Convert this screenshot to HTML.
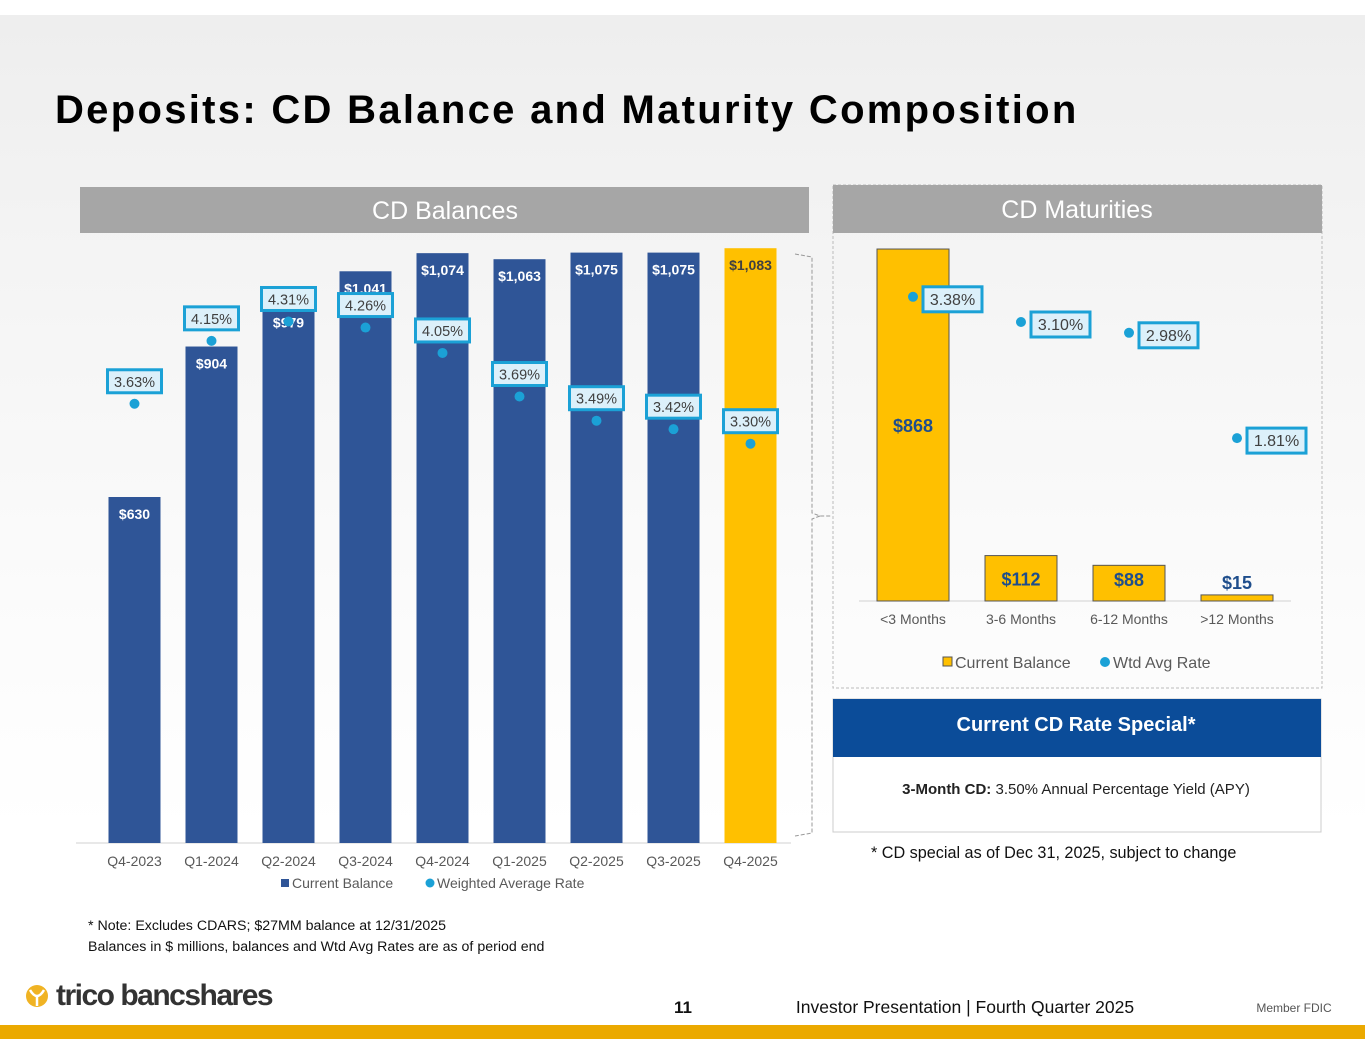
<!DOCTYPE html>
<html><head><meta charset="utf-8"><style>
html,body{margin:0;padding:0;}
body{width:1365px;height:1055px;position:relative;overflow:hidden;font-family:"Liberation Sans",sans-serif;background:#fff;}
.bg{position:absolute;left:0;top:15px;width:1365px;height:960px;background:linear-gradient(180deg,#eeeeee 0%,#f5f5f5 30%,#fbfbfb 60%,#ffffff 85%);}
svg{position:absolute;left:0;top:0;}
</style></head><body>
<div class="bg"></div>
<svg width="1365" height="1055" viewBox="0 0 1365 1055">
<text x="55" y="123" font-family="Liberation Sans, sans-serif" font-weight="bold" font-size="40" letter-spacing="2.3" fill="#000">Deposits: CD Balance and Maturity Composition</text>

<rect x="80" y="187" width="729" height="46" fill="#a6a6a6"/>
<text x="445" y="219" text-anchor="middle" font-size="25" fill="#fff">CD Balances</text>

<rect x="833" y="185" width="489" height="503" fill="none" stroke="#bbb" stroke-dasharray="3,2"/>
<rect x="833" y="185" width="489" height="48" fill="#a6a6a6"/>
<text x="1077" y="218" text-anchor="middle" font-size="25" fill="#fff">CD Maturities</text>

<path d="M795,254 L812,257 L812,513 L820,516 L832,516 M820,516 L812,519 L812,833 L795,836" fill="none" stroke="#999" stroke-dasharray="4,2"/>

<g id="left"></g>
<g id="right"></g>

<rect x="833" y="699" width="488" height="133" fill="#fff" stroke="#ccc"/>
<rect x="833" y="699" width="488" height="58" fill="#0b4c99"/>
<text x="1076" y="731" text-anchor="middle" font-size="20" font-weight="bold" fill="#fff">Current CD Rate Special*</text>
<text x="1076" y="794" text-anchor="middle" font-size="15" fill="#222"><tspan font-weight="bold">3-Month CD:</tspan> 3.50% Annual Percentage Yield (APY)</text>
<text x="871" y="858" font-size="16.2" fill="#111">* CD special as of Dec 31, 2025, subject to change</text>

<text x="88" y="930" font-size="14.2" fill="#111">* Note: Excludes CDARS; $27MM balance at 12/31/2025</text>
<text x="88" y="951" font-size="14.2" fill="#111">Balances in $ millions, balances and Wtd Avg Rates are as of period end</text>

<g>
<circle cx="37" cy="996" r="11" fill="#f0b323"/>
<path d="M30,990 Q37,1002 44,990" fill="none" stroke="#fff" stroke-width="2.5"/>
<line x1="37" y1="996" x2="37" y2="1006" stroke="#fff" stroke-width="2.5"/>
<text x="56" y="1005" font-size="30" font-weight="bold" fill="#333" letter-spacing="-1.5">trico bancshares</text>
</g>
<text x="683" y="1013" text-anchor="middle" font-size="17" font-weight="bold" fill="#111">11</text>
<text x="965" y="1013" text-anchor="middle" font-size="17.5" fill="#111">Investor Presentation  |  Fourth Quarter 2025</text>
<text x="1294" y="1012" text-anchor="middle" font-size="12" fill="#555">Member FDIC</text>
<rect x="0" y="1025" width="1365" height="14" fill="#eba900"/>
</svg>
<script>
const NS="http://www.w3.org/2000/svg";
const quarters=["Q4-2023","Q1-2024","Q2-2024","Q3-2024","Q4-2024","Q1-2025","Q2-2025","Q3-2025","Q4-2025"];
const balances=[630,904,979,1041,1074,1063,1075,1075,1083];
const balanceLabels=["$630","$904","$979","$1,041","$1,074","$1,063","$1,075","$1,075","$1,083"];
const rates=[3.63,4.15,4.31,4.26,4.05,3.69,3.49,3.42,3.30];
const buckets=["<3 Months","3-6 Months","6-12 Months",">12 Months"];
const matBalances=[868,112,88,15];
const matRates=[3.38,3.10,2.98,1.81];

function mk(parent,tag,attrs,text){const e=document.createElementNS(NS,tag);for(const k in attrs)e.setAttribute(k,attrs[k]);if(text!==undefined)e.textContent=text;parent.appendChild(e);return e;}

// Left chart
const L=document.getElementById('left');
const lBase=843, lX0=96, lStep=77, lBw=52;
const lx=i=>lX0+lStep*(i+0.5);
const ly=v=>lBase-v*0.5492;
const lr=r=>lBase-r*121;
let ax=mk(L,'line',{x1:lX0-20,y1:lBase,x2:lX0+lStep*9+2,y2:lBase,stroke:'#d0d0d0'});


quarters.forEach((q,i)=>{
  const last=i===quarters.length-1;
  const b=mk(L,'rect',{x:lx(i)-lBw/2,y:ly(balances[i]),width:lBw,height:lBase-ly(balances[i]),fill:last?'#ffc000':'#2f5597'});
  
  
  const t=mk(L,'text',{x:lx(i),y:ly(balances[i])+22,'text-anchor':'middle','font-size':14,'font-weight':'bold',fill:last?'#404040':'#fff'},balanceLabels[i]);
  
  
  const xl=mk(L,'text',{x:lx(i),y:866,'text-anchor':'middle','font-size':14,fill:'#595959'},q);
  
  
  const cy=lr(rates[i]);
  const d=mk(L,'circle',{cx:lx(i),cy:cy,r:5,fill:'#1ba1d6'});
  
  
  const bx=mk(L,'rect',{x:lx(i)-27,y:cy-34,width:54,height:23,fill:'#dcf0fa',stroke:'#1ba1d6','stroke-width':3});
  
  
  const rt=mk(L,'text',{x:lx(i),y:cy-17,'text-anchor':'middle','font-size':14.5,fill:'#404040'},rates[i].toFixed(2)+'%');
  
  
});
let lg1=mk(L,'rect',{x:281,y:879,width:8,height:8,fill:'#2f5597'});


let lg2=mk(L,'text',{x:292,y:888,'font-size':14,fill:'#595959'},'Current Balance');


let lg3=mk(L,'circle',{cx:430,cy:883,r:4.5,fill:'#1ba1d6'});


let lg4=mk(L,'text',{x:437,y:888,'font-size':14,fill:'#595959'},'Weighted Average Rate');



// Right chart
const R=document.getElementById('right');
const rBase=601, rX0=859, rStep=108, rBw=72;
const rx=i=>rX0+rStep*(i+0.5);
const ry=v=>rBase-v*0.4055;
const rr=r=>rBase-r*90;
let ax2=mk(R,'line',{x1:rX0,y1:rBase,x2:rX0+rStep*4,y2:rBase,stroke:'#d0d0d0'});


buckets.forEach((c,i)=>{
  const b=mk(R,'rect',{x:rx(i)-rBw/2,y:ry(matBalances[i]),width:rBw,height:rBase-ry(matBalances[i]),fill:'#ffc000',stroke:'#555','stroke-width':1});
  
  
  const ty=i===0?ry(matBalances[i])+183:Math.min(ry(matBalances[i])+30,rBase-15);
  const t=mk(R,'text',{x:rx(i),y:i===0?432:(i===3?589:ty),'text-anchor':'middle','font-size':18,'font-weight':'bold',fill:'#1f4e8c'},'$'+matBalances[i]);
  
  
  const xl=mk(R,'text',{x:rx(i),y:624,'text-anchor':'middle','font-size':14,fill:'#595959'},c);
  
  
  const cy=rr(matRates[i]);
  const d=mk(R,'circle',{cx:rx(i),cy:cy,r:5,fill:'#1ba1d6'});
  
  
  const bx=mk(R,'rect',{x:rx(i)+10,y:cy-10,width:59,height:25,fill:'#dcf0fa',stroke:'#1ba1d6','stroke-width':3});
  
  
  const rt=mk(R,'text',{x:rx(i)+39.5,y:cy+8,'text-anchor':'middle','font-size':16,fill:'#404040'},matRates[i].toFixed(2)+'%');
  
  
});
let rl1=mk(R,'rect',{x:943,y:657,width:9,height:9,fill:'#ffc000',stroke:'#555'});


let rl2=mk(R,'text',{x:955,y:668,'font-size':16,fill:'#595959'},'Current Balance');


let rl3=mk(R,'circle',{cx:1105,cy:662,r:5,fill:'#1ba1d6'});


let rl4=mk(R,'text',{x:1113,y:668,'font-size':16,fill:'#595959'},'Wtd Avg Rate');


</script>
</body></html>
